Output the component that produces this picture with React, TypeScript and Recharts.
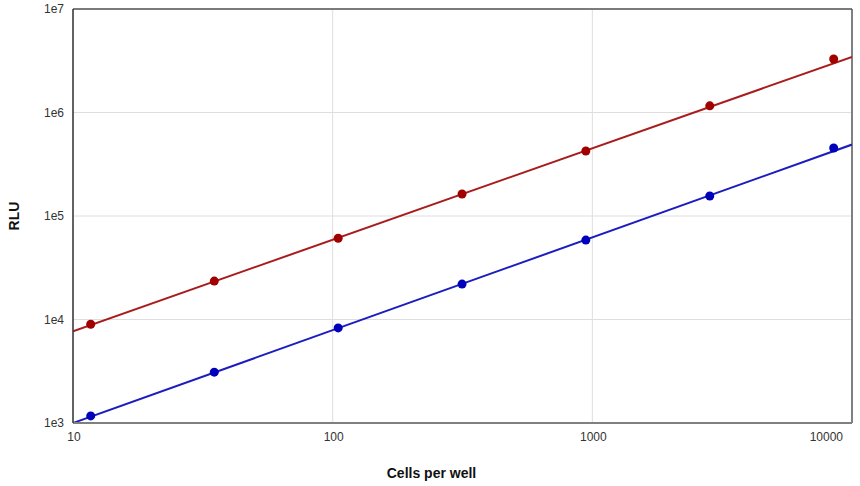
import React from "react";
import { ComposedChart, XAxis, YAxis, CartesianGrid, Scatter, Line, ReferenceLine, Label } from "recharts";

const cells = [11.7, 35, 105, 315, 944, 2833, 8500];
const redValues = [9000, 23500, 61000, 163000, 425000, 1160000, 3290000];
const blueValues = [1170, 3100, 8300, 22000, 58500, 156000, 454000];
const fitX = [10, 10000];
const redFit = [7700, 3450000];
const blueFit = [1000, 490000];
const xTicks = [10, 100, 1000, 10000];
const yTicks = [1e3, 1e4, 1e5, 1e6, 1e7];
const yTickLabels = ["1e3", "1e4", "1e5", "1e6", "1e7"];

const RED = "#a00000";
const RED_LINE = "#a81c1c";
const BLUE = "#0000bb";
const BLUE_LINE = "#1c1cc0";
const FONT = "'Liberation Sans', Arial, sans-serif";

const toPts = (xs: number[], ys: number[]) => xs.map((x, i) => ({ x, y: ys[i] }));
const redPts = toPts(cells, redValues);
const bluePts = toPts(cells, blueValues);
const redFitPts = toPts(fitX, redFit);
const blueFitPts = toPts(fitX, blueFit);

const XTick = (props: any) => {
  const { x, y, payload } = props;
  const last = payload.value === 10000;
  return (
    <text x={last ? x + 3 : x + 1} y={y + 10} textAnchor={last ? "end" : "middle"} fontSize={12} fill="#333" fontFamily={FONT}>
      {String(payload.value)}
    </text>
  );
};

const YTick = (props: any) => {
  const { x, y, payload } = props;
  const idx = yTicks.indexOf(payload.value);
  return (
    <text x={x - 1} y={y + 4} textAnchor="end" fontSize={12} fill="#333" fontFamily={FONT}>
      {idx >= 0 ? yTickLabels[idx] : ""}
    </text>
  );
};

const YLabel = (props: any) => {
  const vb = props.viewBox || {};
  const cy = (vb.y ?? 9) + (vb.height ?? 414) / 2;
  return (
    <text x={19} y={cy} transform={`rotate(-90, 19, ${cy})`} textAnchor="middle" fontSize={14} fontWeight="bold" fill="#111" fontFamily={FONT}>
      RLU
    </text>
  );
};

export default function App() {
  return (
    <div style={{ position: "absolute", left: 0, top: 0, background: "#fff" }}>
      <ComposedChart width={860} height={486} margin={{ top: 9, right: 8, left: 0, bottom: 0 }}>
        <CartesianGrid stroke="#dedede" strokeWidth={1} />
        <XAxis
          dataKey="x"
          type="number"
          scale="log"
          domain={[10, 10000]}
          ticks={xTicks}
          height={63}
          tickLine={false}
          axisLine={{ stroke: "#808080", strokeWidth: 2 }}
          tick={<XTick />}
          allowDataOverflow
        >
          <Label value="Cells per well" position="insideBottom" offset={8} dx={-31} style={{ fontWeight: "bold", fontSize: 14, fill: "#111", fontFamily: FONT }} />
        </XAxis>
        <YAxis
          type="number"
          scale="log"
          domain={[1000, 1e7]}
          ticks={yTicks}
          width={73}
          tickLine={false}
          axisLine={{ stroke: "#333", strokeWidth: 1.5 }}
          tick={<YTick />}
          allowDataOverflow
        >
          <Label content={<YLabel />} />
        </YAxis>
        <ReferenceLine x={10000} stroke="#808080" strokeWidth={2} />
        <ReferenceLine y={1e7} stroke="#555" strokeWidth={1.5} />
        <Line data={redFitPts} dataKey="y" type="linear" stroke={RED_LINE} strokeWidth={2} dot={false} isAnimationActive={false} />
        <Line data={blueFitPts} dataKey="y" type="linear" stroke={BLUE_LINE} strokeWidth={2} dot={false} isAnimationActive={false} />
        <Scatter data={redPts} dataKey="y" fill={RED} shape={(p: any) => <circle cx={p.cx} cy={p.cy} r={4.5} fill={RED} />} isAnimationActive={false} />
        <Scatter data={bluePts} dataKey="y" fill={BLUE} shape={(p: any) => <circle cx={p.cx} cy={p.cy} r={4.5} fill={BLUE} />} isAnimationActive={false} />
      </ComposedChart>
    </div>
  );
}
